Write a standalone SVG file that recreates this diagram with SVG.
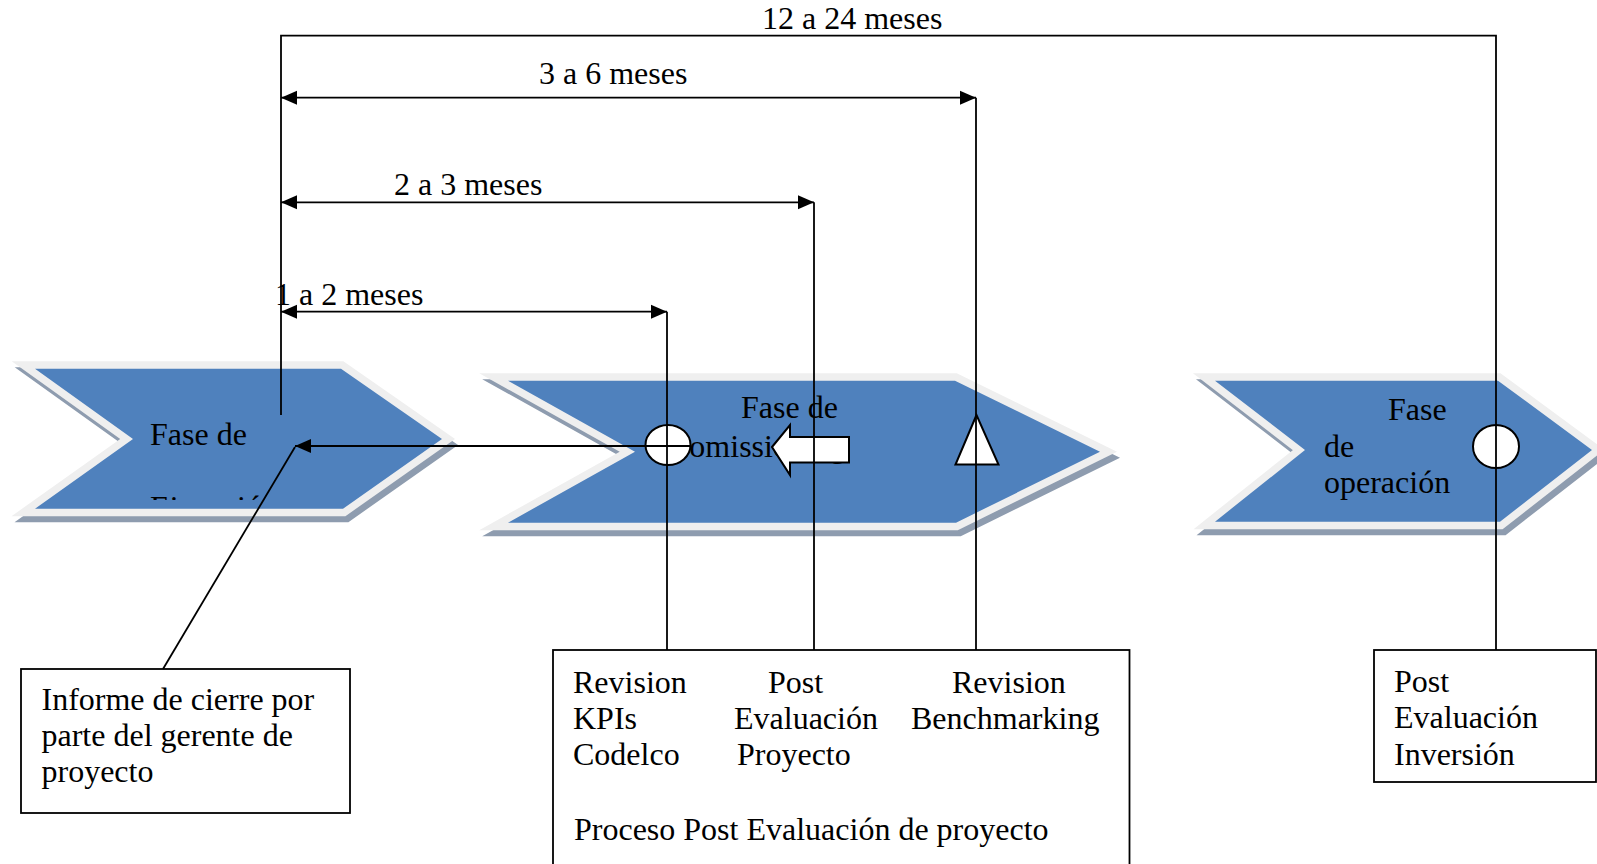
<svg xmlns="http://www.w3.org/2000/svg" width="1597" height="864" viewBox="0 0 1597 864">
<defs>
<style>
.t{font-family:"Liberation Serif","Times New Roman",serif;font-size:32px;fill:#000}
.band{fill:#efefef;stroke:#efefef;stroke-width:15;stroke-linejoin:miter;stroke-miterlimit:10}
.shadow{fill:#8e9caf;stroke:#8e9caf;stroke-width:15;stroke-linejoin:miter;stroke-miterlimit:10}
.blue{fill:#4f81bd}
.ln{fill:none;stroke:#000;stroke-width:1.8}
.box{fill:#fff;stroke:#000;stroke-width:1.8}
.sym{fill:#fff;stroke:#000;stroke-width:2}
</style>
<marker id="ah" viewBox="-1 -8 18 16" refX="16" refY="0" markerWidth="18" markerHeight="16" markerUnits="userSpaceOnUse" orient="auto-start-reverse">
<path d="M0,-7 L16,0 L0,7 z" fill="#000"/>
</marker>
<clipPath id="c1clip"><rect x="0" y="300" width="460" height="200"/></clipPath>
<polygon id="p1" points="35,368.7 341,368.7 442,439 343,508.7 35,508.7 133,439"/>
<polygon id="p2" points="508,380.7 955,380.7 1100,451.7 956,522.7 508,522.7 635,451.7"/>
<polygon id="p3" points="1215,380.7 1498,380.7 1592,450 1500,521.7 1215,521.7 1305,450"/>
</defs>
<rect width="1597" height="864" fill="#fff"/>

<g id="fase-ejecucion">
<use href="#p1" class="shadow" transform="translate(3,6)"/>
<use href="#p1" class="band"/>
<use href="#p1" class="blue"/>
<text class="t" x="150" y="445">Fase de</text>
<text class="t" x="150" y="518" clip-path="url(#c1clip)">Ejecución</text>
</g>

<g id="fase-comissioning">
<use href="#p2" class="shadow" transform="translate(3,6)"/>
<use href="#p2" class="band"/>
<use href="#p2" class="blue"/>
<text class="t" x="741" y="418">Fase de</text>
<text class="t" x="668" y="456.5">Comissioning</text>
<ellipse class="sym" cx="668" cy="445" rx="22.5" ry="20"/>
<polygon class="sym" points="772,447 790,425 790,437 849,437 849,462.5 790,462.5 790,475"/>
<polygon class="sym" points="976.5,415 955.5,464.5 998.5,464.5"/>
</g>

<g id="fase-operacion">
<use href="#p3" class="shadow" transform="translate(3,6)"/>
<use href="#p3" class="band"/>
<use href="#p3" class="blue"/>
<text class="t" x="1388" y="420">Fase</text>
<text class="t" x="1324" y="456.5">de</text>
<text class="t" x="1324" y="493">operación</text>
<ellipse class="sym" cx="1496" cy="446.5" rx="23" ry="21.5"/>
</g>

<g id="informe">
<rect class="box" x="21" y="669" width="329" height="144"/>
<text class="t" x="41.5" y="710">Informe de cierre por</text>
<text class="t" x="41.5" y="746">parte del gerente de</text>
<text class="t" x="41.5" y="782">proyecto</text>
</g>

<g id="proceso">
<rect class="box" x="553" y="650" width="576.5" height="240"/>
<text class="t" x="573" y="693">Revision</text>
<text class="t" x="573" y="729">KPIs</text>
<text class="t" x="573" y="765">Codelco</text>
<text class="t" x="768" y="693">Post</text>
<text class="t" x="734" y="729">Evaluación</text>
<text class="t" x="737" y="765">Proyecto</text>
<text class="t" x="952" y="693">Revision</text>
<text class="t" x="911" y="729">Benchmarking</text>
<text class="t" x="574" y="840">Proceso Post Evaluación de proyecto</text>
</g>

<g id="post-inversion">
<rect class="box" x="1374" y="650" width="222" height="132"/>
<text class="t" x="1394" y="692">Post</text>
<text class="t" x="1394" y="728">Evaluación</text>
<text class="t" x="1394" y="765">Inversión</text>
</g>

<g id="labels">
<text class="t" x="762" y="29">12 a 24 meses</text>
<text class="t" x="539" y="84">3 a 6 meses</text>
<text class="t" x="394" y="195">2 a 3 meses</text>
<text class="t" x="275" y="305">1 a 2 meses</text>
</g>

<g id="connectors">
<path class="ln" d="M281,415 V35.6 H1496 V650"/>
<path class="ln" d="M281,97.7 H976" marker-start="url(#ah)" marker-end="url(#ah)"/>
<path class="ln" d="M976,97.7 V650"/>
<path class="ln" d="M281,202.3 H814" marker-start="url(#ah)" marker-end="url(#ah)"/>
<path class="ln" d="M814,202.3 V650"/>
<path class="ln" d="M281,311.7 H667" marker-start="url(#ah)" marker-end="url(#ah)"/>
<path class="ln" d="M667,311.7 V650"/>
<path class="ln" d="M690,446 H295" marker-end="url(#ah)"/>
<path class="ln" d="M295,447 L163,669"/>
</g>
</svg>
